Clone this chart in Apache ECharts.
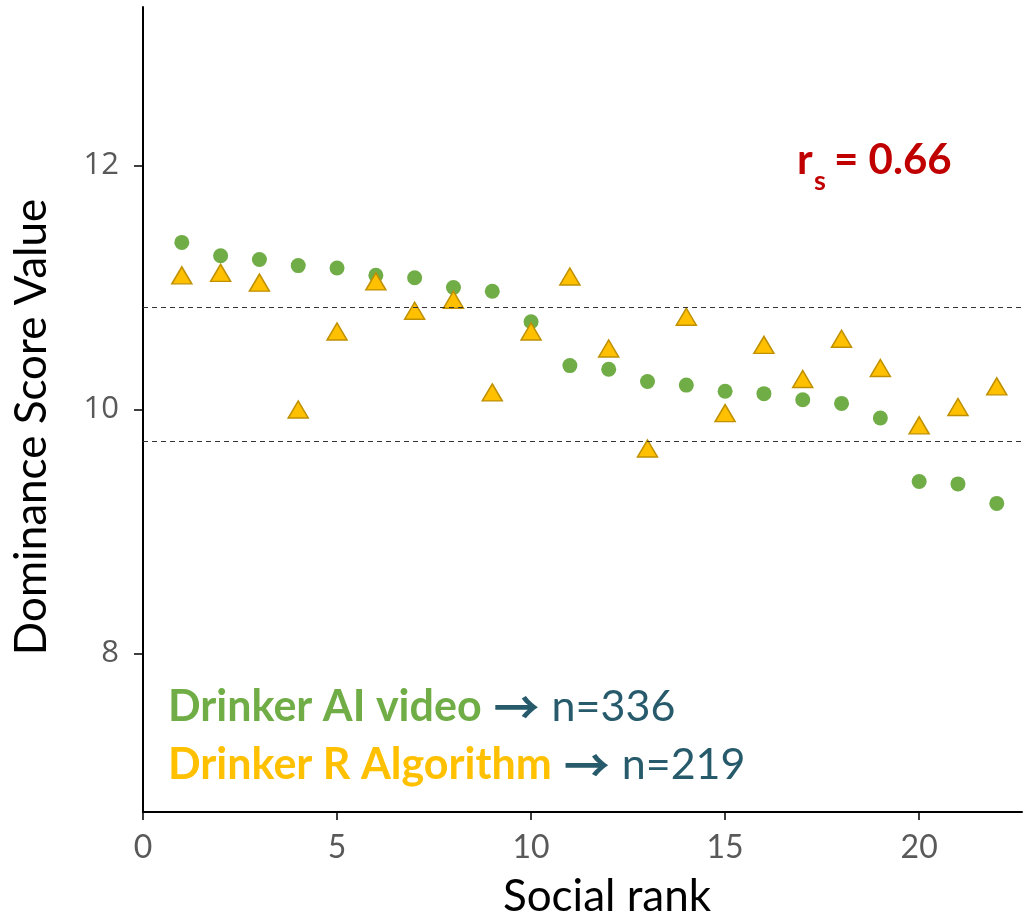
<!DOCTYPE html>
<html>
<head>
<meta charset="utf-8">
<script src="https://cdn.jsdelivr.net/npm/echarts@6/dist/echarts.min.js"></script>
<style>
  html, body { margin: 0; padding: 0; background: #fff; }
  #chart { width: 1025px; height: 917px; }
</style>
</head>
<body>
<div id="chart"></div>
<script>
// Social rank of each animal (x) and its dominance score from two methods
const ranks = [1, 2, 3, 4, 5, 6, 7, 8, 9, 10, 11, 12, 13, 14, 15, 16, 17, 18, 19, 20, 21, 22];
const aiVideo = [11.37, 11.26, 11.23, 11.18, 11.16, 11.10, 11.08, 11.00, 10.97, 10.72, 10.36,
                 10.33, 10.23, 10.20, 10.15, 10.13, 10.08, 10.05, 9.93, 9.41, 9.39, 9.23];
const rAlgorithm = [11.10, 11.12, 11.04, 10.00, 10.64, 11.05, 10.81, 10.90, 10.14, 10.64, 11.09,
                    10.50, 9.68, 10.76, 9.97, 10.53, 10.25, 10.58, 10.34, 9.87, 10.02, 10.19];
// Reference band (dashed lines)
const bandLines = [10.84, 9.74];
const xTicks = [0, 5, 10, 15, 20];
const yTicks = [8, 10, 12];

const FONT = 'Lato';
const chart = echarts.init(document.getElementById('chart'), null, { renderer: 'canvas' });

function sampleLine(label, labelColor, n) {
  return {
    text: '{a|' + label + '}{c|\u2192}{b|n=' + n + '}',
    verticalAlign: 'middle',
    rich: {
      a: { font: 'bold 43px ' + FONT, fill: labelColor, verticalAlign: 'middle' },
      c: { font: 'bold 46px "Noto Sans CJK SC"', fill: '#275B6B', padding: [0, 12, 0, 12], verticalAlign: 'middle' },
      b: { font: '43px ' + FONT, fill: '#275B6B', verticalAlign: 'middle' }
    }
  };
}

chart.setOption({
  animation: false,
  backgroundColor: '#ffffff',
  grid: { left: 143, right: 3, top: 7, bottom: 105 },
  xAxis: {
    type: 'value',
    min: 0,
    max: 22.65,
    splitLine: { show: false },
    axisLine: { show: true, onZero: false, lineStyle: { color: '#000', width: 2 } },
    axisTick: { show: true, length: 8, customValues: xTicks, lineStyle: { color: '#000', width: 1.5 } },
    axisLabel: { customValues: xTicks, margin: 20, fontFamily: FONT, fontSize: 32, color: '#595959' }
  },
  yAxis: {
    type: 'value',
    min: 6.7,
    max: 13.3,
    splitLine: { show: false },
    axisLine: { show: true, onZero: false, lineStyle: { color: '#000', width: 2 } },
    axisTick: { show: true, length: 9, customValues: yTicks, lineStyle: { color: '#000', width: 1.5 } },
    axisLabel: { customValues: yTicks, margin: 24, fontFamily: 'Open Sans', fontSize: 31, color: '#595959' }
  },
  series: [
    {
      name: 'Drinker AI video',
      type: 'scatter',
      symbol: 'circle',
      symbolSize: 15,
      itemStyle: { color: '#70AD47', opacity: 1 },
      data: ranks.map((r, i) => [r, aiVideo[i]]),
      markLine: {
        silent: true,
        symbol: 'none',
        label: { show: false },
        lineStyle: { color: '#333', width: 1.2, type: [5, 4] },
        data: bandLines.map(v => ({ yAxis: v }))
      },
      z: 2
    },
    {
      name: 'Drinker R Algorithm',
      type: 'scatter',
      symbol: 'triangle',
      symbolSize: [20, 17],
      itemStyle: { color: '#FFC000', borderColor: '#BF9000', borderWidth: 1.5, opacity: 1 },
      data: ranks.map((r, i) => [r, rAlgorithm[i]]),
      z: 3
    }
  ],
  graphic: [
    // axis titles
    {
      type: 'text', x: 607, y: 897,
      style: { text: 'Social rank', font: '44px ' + FONT, fill: '#000', align: 'center', verticalAlign: 'middle' }
    },
    {
      type: 'text', x: 32, y: 427, rotation: Math.PI / 2,
      style: { text: 'Dominance Score Value', font: '44px ' + FONT, fill: '#000', align: 'center', verticalAlign: 'middle' }
    },
    // Spearman correlation
    {
      type: 'text', x: 797, y: 160,
      style: { text: 'r', font: 'bold 42px ' + FONT, fill: '#C00000', align: 'left', verticalAlign: 'middle' }
    },
    {
      type: 'text', x: 814, y: 181,
      style: { text: 's', font: 'bold 27px ' + FONT, fill: '#C00000', align: 'left', verticalAlign: 'middle' }
    },
    {
      type: 'text', x: 834, y: 160,
      style: { text: '= 0.66', font: 'bold 42px ' + FONT, fill: '#C00000', align: 'left', verticalAlign: 'middle' }
    },
    // sample sizes
    { type: 'text', x: 168, y: 707, style: sampleLine('Drinker AI video', '#70AD47', 336) },
    { type: 'text', x: 168, y: 765, style: sampleLine('Drinker R Algorithm', '#FFC000', 219) }
  ]
});
</script>
</body>
</html>
